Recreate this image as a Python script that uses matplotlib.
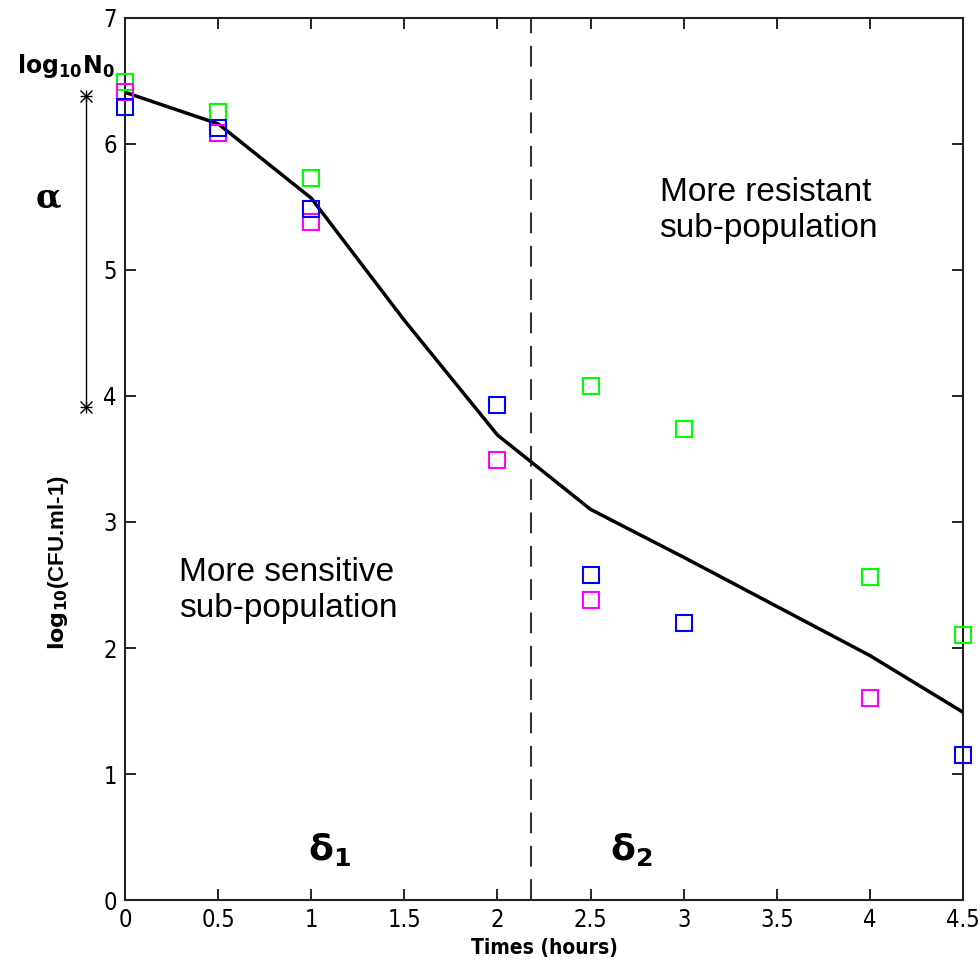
import matplotlib
matplotlib.use('Agg')
import matplotlib.pyplot as plt

# measured points (log10 CFU/ml)
t_green = [0, 0.5, 1, 2.5, 3, 4, 4.5]
y_green = [6.49, 6.25, 5.73, 4.08, 3.74, 2.56, 2.10]
t_mag = [0, 0.5, 1, 2, 2.5, 4]
y_mag = [6.41, 6.09, 5.38, 3.49, 2.38, 1.60]
t_blue = [0, 0.5, 1, 2, 2.5, 3, 4.5]
y_blue = [6.29, 6.13, 5.48, 3.93, 2.58, 2.20, 1.15]

# fitted biphasic model
t_fit = [0, 0.5, 1, 1.5, 2, 2.5, 3, 3.5, 4, 4.5]
y_fit = [6.41, 6.16, 5.57, 4.60, 3.69, 3.10, 2.72, 2.33, 1.94, 1.49]

t_switch = 2.18
alpha_top = 6.38
alpha_bottom = 3.91

xticks = [0, 0.5, 1, 1.5, 2, 2.5, 3, 3.5, 4, 4.5]
xticklabels = ['0', '0.5', '1', '1.5', '2', '2.5', '3', '3.5', '4', '4.5']
yticks = [0, 1, 2, 3, 4, 5, 6, 7]

arial = ['Liberation Sans', 'DejaVu Sans']

fig = plt.figure(figsize=(9.8, 9.66), dpi=100)
ax = fig.add_axes([0.1276, 0.0683, 0.8551, 0.9131])

ax.plot(t_fit, y_fit, color='k', lw=2.5, zorder=3)
ax.plot(t_green, y_green, 's', ms=11, mfc='none', mec='#00ff00', mew=1.5, clip_on=False, zorder=4)
ax.plot(t_mag, y_mag, 's', ms=11, mfc='none', mec='#ff00ff', mew=1.5, clip_on=False, zorder=4)
ax.plot(t_blue, y_blue, 's', ms=11, mfc='none', mec='#0000ff', mew=1.5, clip_on=False, zorder=4)

ax.axvline(t_switch, color='#333333', lw=1.5, dashes=(10, 6), zorder=2)

# alpha bracket outside the axes
xa = -0.21
ax.plot([xa, xa], [alpha_top, alpha_bottom], color='k', lw=1, clip_on=False)
for m in ['+', 'x']:
    ax.plot([xa, xa], [alpha_top, alpha_bottom], m, color='k', ms=9, mew=1, clip_on=False)

ax.text(2.87, 5.74, 'More resistant\nsub-population', fontsize=24, family=arial,
        va='top', ha='left', linespacing=1.2)
ax.text(0.29, 2.72, 'More sensitive\nsub-population', fontsize=24, family=arial,
        va='top', ha='left', linespacing=1.2)
ax.text(1.1, 0.40, r'$\mathbf{\delta_1}$', fontsize=26, ha='center', va='center')
ax.text(2.72, 0.40, r'$\mathbf{\delta_2}$', fontsize=26, ha='center', va='center')
ax.text(-0.41, 5.57, 'α', family='DejaVu Serif', fontweight='bold', fontsize=24,
        ha='center', va='center')
ax.text(-0.32, 6.62, r'$\mathbf{log_{10}N_0}$', fontsize=17, ha='center', va='center')

ax.set_xlim(0, 4.5)
ax.set_ylim(0, 7)
ax.set_xticks(xticks)
ax.set_xticklabels(xticklabels, fontsize=17, fontstretch='condensed')
ax.set_yticks(yticks)
ax.set_yticklabels([str(v) for v in yticks], fontsize=17, fontstretch='condensed')
ax.tick_params(direction='in', length=8, width=1.2, top=True, right=True, pad=6)

ax.set_xlabel('Times (hours)', fontsize=15, fontweight='bold', fontstretch='condensed', labelpad=4)
fig.text(0.060, 0.417, r'$\mathbf{log_{10}}$(CFU.ml-1)', family=arial, fontsize=16,
         fontweight='bold', rotation=90, ha='center', va='center')

for s in ax.spines.values():
    s.set_linewidth(1.5)
    s.set_color('#222222')

plt.savefig('out.png', dpi=100)
